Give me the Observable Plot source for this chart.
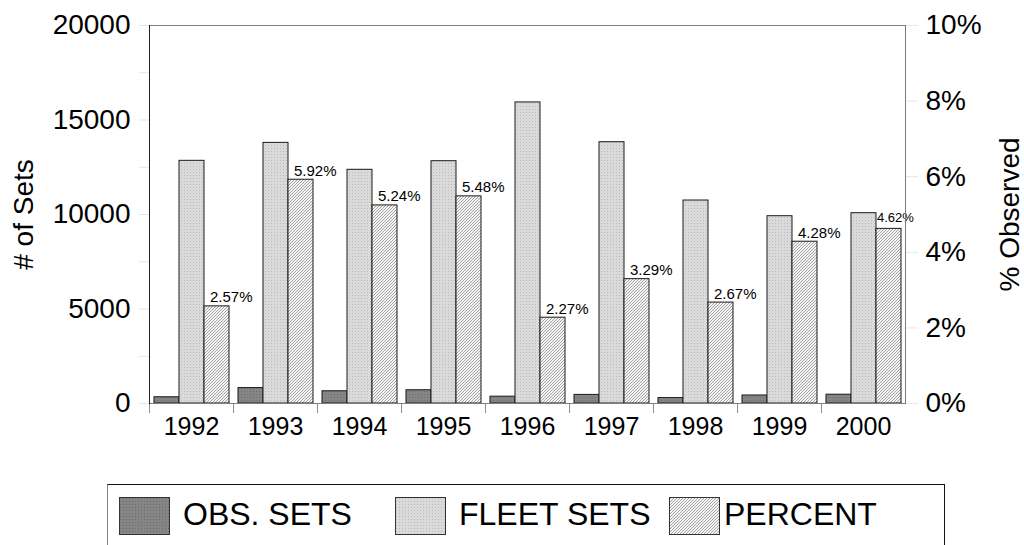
<!DOCTYPE html>
<html>
<head>
<meta charset="utf-8">
<script src="https://cdn.jsdelivr.net/npm/d3@7"></script>
<script src="https://cdn.jsdelivr.net/npm/@observablehq/plot@0.6"></script>
<style>
  html, body { margin: 0; padding: 0; background: #fff; overflow: hidden; width: 1024px; height: 545px; }
  body { position: relative; font-family: "Liberation Sans", Arial, sans-serif; color: #000; }
  #chart { position: absolute; left: 0; top: 0; }
  #legend { position: absolute; left: 107px; top: 484px; width: 838px; height: 90px; box-sizing: border-box;
            border-top: 1px solid #111; border-left: 1px solid #888; border-right: 1px solid #111; }
  .sw { position: absolute; top: 12px; }
  .lab { position: absolute; top: 13px; font-size: 32px; line-height: 32px; white-space: nowrap; }
</style>
</head>
<body>
<svg width="0" height="0" style="position:absolute">
  <defs>
    <pattern id="obsFill" patternUnits="userSpaceOnUse" width="3" height="3">
      <rect width="3" height="3" fill="#858585"></rect>
      <rect x="1" y="1" width="1" height="1" fill="#6c6c6c"></rect>
    </pattern>
    <pattern id="fleetFill" patternUnits="userSpaceOnUse" width="3" height="3">
      <rect width="3" height="3" fill="#dadada"></rect>
      <rect x="1" y="1" width="1" height="1" fill="#bcbcbc"></rect>
    </pattern>
    <pattern id="pctFill" patternUnits="userSpaceOnUse" width="3" height="3">
      <rect width="3" height="3" fill="#f4f4f4"></rect>
      <path d="M-1,1 l2,-2 M0,3 l3,-3 M2,4 l2,-2" stroke="#9a9a9a" stroke-width="0.9"></path>
    </pattern>
  </defs>
</svg>
<div id="chart"></div>
<div id="legend"></div>
<script>
// ---- data ----
const years = ["1992", "1993", "1994", "1995", "1996", "1997", "1998", "1999", "2000"];
const obsSets = [330, 816, 648, 702, 362, 455, 287, 424, 465];
const fleetSets = [12840, 13790, 12365, 12820, 15930, 13825, 10740, 9910, 10070];
const percentObserved = [2.57, 5.92, 5.24, 5.48, 2.27, 3.29, 2.67, 4.28, 4.62];
const seriesNames = ["OBS. SETS", "FLEET SETS", "PERCENT"];
const setsTicks = [0, 5000, 10000, 15000, 20000];
const setsMinorTicks = [0, 2500, 5000, 7500, 10000, 12500, 15000, 17500, 20000];
const percentTicks = [0, 2, 4, 6, 8, 10];
const setsMax = 20000;
const percentMax = 10;

// ---- layout ----
const W = 1024, H = 470;
const mTop = 25, mBottom = 67, mLeft = 146, mRight = 116;
const innerH = H - mTop - mBottom;
const setsPerPercent = setsMax / percentMax;

const fills = {"OBS. SETS": "url(#obsFill)", "FLEET SETS": "url(#fleetFill)", "PERCENT": "url(#pctFill)"};

const rows = years.flatMap((year, i) => [
  {year, series: seriesNames[0], value: obsSets[i]},
  {year, series: seriesNames[1], value: fleetSets[i]},
  {year, series: seriesNames[2], value: percentObserved[i] * setsPerPercent, pct: percentObserved[i]}
]);
const pctRows = rows.filter(d => d.series === seriesNames[2]);
const lastYear = years[years.length - 1];

const plot = Plot.plot({
  width: W,
  height: H,
  marginTop: mTop,
  marginBottom: mBottom,
  marginLeft: mLeft,
  marginRight: mRight,
  style: {fontFamily: "'Liberation Sans', Arial, sans-serif", background: "#fff", color: "#000"},
  fx: {domain: years, paddingInner: 0, paddingOuter: 0},
  x: {domain: seriesNames, paddingInner: 0, paddingOuter: 0.127, axis: null},
  y: {domain: [0, setsMax]},
  marks: [
    ...seriesNames.map(s => Plot.barY(rows.filter(d => d.series === s), {
      fx: "year", x: "series", y: "value", fill: fills[s], stroke: "#1a1a1a", strokeWidth: 1
    })),
    Plot.text(pctRows.filter(d => d.year !== lastYear), {
      fx: "year", x: "series", y: "value", text: d => d.pct.toFixed(2) + "%",
      textAnchor: "start", lineAnchor: "bottom", dx: -7, dy: -4, fontSize: 15, fill: "#000"
    }),
    Plot.text(pctRows.filter(d => d.year === lastYear), {
      fx: "year", x: "series", y: "value", text: d => d.pct.toFixed(2) + "%",
      textAnchor: "start", lineAnchor: "bottom", dx: -12, dy: -7, fontSize: 13, fill: "#000"
    }),
    // group boundary ticks below the axis
    Plot.frame({anchor: "left", insetTop: innerH, insetBottom: -9, stroke: "#8a8a8a"}),
    // frame lines
    Plot.frame({facet: "super", anchor: "top", stroke: "#808080"}),
    Plot.frame({facet: "super", anchor: "bottom", stroke: "#808080"}),
    Plot.frame({facet: "super", anchor: "right", stroke: "#7a7a7a"}),
    Plot.frame({facet: "super", anchor: "left", stroke: "#202020"}),
    // axes
    Plot.axisY({anchor: "left", ticks: setsMinorTicks, text: null, tickSize: 10, stroke: "#e6e6e6", label: null}),
    Plot.axisY({anchor: "right", ticks: percentTicks.map(p => p * setsPerPercent), text: null, tickSize: 12, stroke: "#e6e6e6", label: null}),
    Plot.axisY({anchor: "left", ticks: setsTicks, tickFormat: d => String(d), tickSize: 0, tickPadding: 19,
      fontSize: 28, label: "# of Sets", labelArrow: "none", labelAnchor: "center", labelOffset: 136}),
    Plot.axisY({anchor: "right", ticks: percentTicks.map(p => p * setsPerPercent),
      tickFormat: d => `${Math.round(d / setsPerPercent)}%`, tickSize: 0, tickPadding: 20,
      fontSize: 28, label: "% Observed", labelArrow: "none", labelAnchor: "center", labelOffset: 113}),
    Plot.axisFx({anchor: "bottom", tickSize: 0, tickPadding: 14, fontSize: 25, label: null})
  ]
});
document.getElementById("chart").appendChild(plot);

// ---- legend ----
const legend = d3.select("#legend");
const swatchLeft = [11, 287, 561];
const labelLeft = [75, 351, 616];
seriesNames.forEach((s, i) => {
  const sw = legend.append("svg").attr("class", "sw").attr("width", 52).attr("height", 39)
    .style("left", swatchLeft[i] + "px");
  sw.append("rect").attr("x", 0.5).attr("y", 0.5).attr("width", 50).attr("height", 37)
    .attr("fill", fills[s]).attr("stroke", "#333");
  legend.append("div").attr("class", "lab").style("left", labelLeft[i] + "px").text(s);
});
</script>
</body>
</html>
